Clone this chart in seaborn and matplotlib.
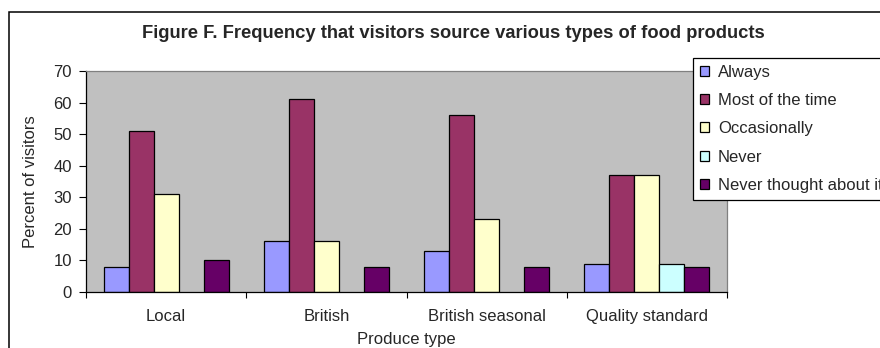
import numpy as np
import pandas as pd
import matplotlib
matplotlib.use("Agg")
import matplotlib.pyplot as plt
from matplotlib.patches import Patch, Rectangle
import seaborn as sns

# Survey results: percent of visitors by produce type and sourcing frequency
categories = ["Local", "British", "British seasonal", "Quality standard"]
frequencies = ["Always", "Most of the time", "Occasionally", "Never",
               "Never thought about it"]
always = [8, 16, 13, 9]
most_of_the_time = [51, 61, 56, 37]
occasionally = [31, 16, 23, 37]
never = [np.nan, np.nan, np.nan, 9]
never_thought = [10, 8, 8, 8]

colors = ["#9999FF", "#993366", "#FFFFCC", "#CCFFFF", "#660066"]

series = [always, most_of_the_time, occasionally, never, never_thought]
df = pd.DataFrame(
    [(cat, freq, vals[i]) for freq, vals in zip(frequencies, series)
     for i, cat in enumerate(categories)],
    columns=["Produce type", "Frequency", "Percent"],
)

sns.set_style("white")
plt.rcParams["font.family"] = ["Liberation Sans", "DejaVu Sans"]
FS = 12

fig = plt.figure(figsize=(8.8, 3.48), dpi=100)
ax = fig.add_axes([86 / 880, 1 - 292 / 348, 641 / 880, 221 / 348])
ax.set_facecolor("#C0C0C0")

palette = dict(zip(frequencies, colors))
sns.barplot(data=df, x="Produce type", y="Percent", hue="Frequency",
            hue_order=frequencies, order=categories, palette=palette,
            width=0.78, dodge=True, saturation=1, edgecolor="black",
            linewidth=0.9, errorbar=None, legend=False, ax=ax)

ax.set_xlim(-0.5, 3.5)
ax.set_ylim(0, 70)
ax.set_yticks(range(0, 71, 10))
ax.tick_params(axis="y", direction="out", length=5, width=0.8,
               color="black", pad=5, labelsize=FS, left=True)

# Category ticks at group boundaries, labels at group centres
ax.set_xticks(np.arange(-0.5, 3.6, 1.0), labels=[""] * 5)
ax.set_xticks(range(len(categories)), labels=categories, minor=True)
ax.tick_params(axis="x", which="major", direction="out", length=4,
               width=0.8, color="black", bottom=True)
ax.tick_params(axis="x", which="minor", length=0, pad=12.5, labelsize=FS)

for side in ("left", "bottom"):
    ax.spines[side].set_color("black")
    ax.spines[side].set_linewidth(0.9)
for side in ("top", "right"):
    ax.spines[side].set_color("#808080")
    ax.spines[side].set_linewidth(0.9)
    ax.spines[side].set_visible(True)

ax.set_xlabel("Produce type", fontsize=FS, va="top")
ax.xaxis.set_label_coords(0.5, -0.18)
ax.set_ylabel("Percent of visitors", fontsize=FS)
ax.yaxis.set_label_coords(-0.075, 0.5)

fig.text(453 / 880, 1 - 33 / 348,
         "Figure F. Frequency that visitors source various types of food products",
         ha="center", va="center", fontsize=13.2, fontweight="bold")

handles = [Patch(facecolor=c, edgecolor="black", linewidth=0.9) for c in colors]
leg = ax.legend(handles, frequencies, loc="upper left",
                bbox_to_anchor=(693 / 880, 1 - 58 / 348),
                bbox_transform=fig.transFigure, fontsize=FS,
                frameon=True, fancybox=False, framealpha=1,
                edgecolor="black", handlelength=0.55, handleheight=0.55,
                handletextpad=0.55, labelspacing=0.8, borderpad=0.4,
                borderaxespad=0)
leg.get_frame().set_linewidth(0.9)

# Chart area border
fig.patches.append(Rectangle((8.5 / 880, -0.2), 1.5, 1.2 - 11.5 / 348,
                             transform=fig.transFigure, fill=False,
                             edgecolor="black", linewidth=1.1))

fig.savefig("out.png", dpi=100)
